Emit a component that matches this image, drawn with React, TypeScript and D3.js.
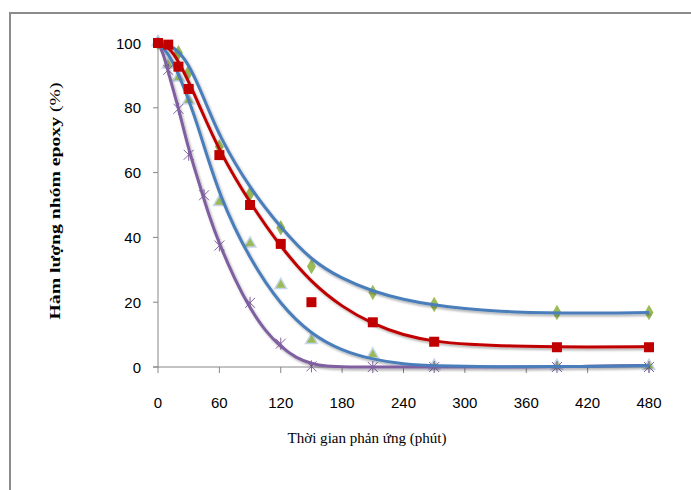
import React from "react";
import * as d3 from "d3";

// measured points (time in minutes, epoxy content in %)
const diamondT = [0, 20, 30, 60, 90, 120, 150, 210, 270, 390, 480];
const diamondV = [100, 97, 91, 68, 53.5, 43, 31, 23, 19.3, 16.8, 16.8];

const squareT = [0, 10, 20, 30, 60, 90, 120, 150, 210, 270, 390, 480];
const squareV = [100, 99.5, 92.7, 85.8, 65.4, 50, 38, 20, 13.8, 7.8, 6.1, 6.1];

const triangleT = [0, 10, 20, 30, 60, 90, 120, 150, 210, 270, 390, 480];
const triangleV = [100, 93, 89, 82, 50.6, 37.8, 25, 8, 3.5, 0, 0, 0];

const starT = [0, 10, 20, 30, 45, 60, 90, 120, 150, 210, 270, 390, 480];
const starV = [100, 91.7, 79.7, 65.5, 53, 37.5, 19.8, 7.2, 0.2, 0, 0, 0, 0];

// trend lines
const fitOuterT = [0, 10, 20, 30, 45, 60, 90, 120, 150, 180, 210, 240, 270, 300, 330, 390, 480];
const fitOuterV = [100, 99.6, 97.5, 93.5, 83, 71, 55, 43, 32.8, 27.2, 23.3, 20.8, 19.1, 18, 17.2, 16.5, 16.8];

const fitRedT = [0, 10, 20, 30, 40, 60, 90, 120, 150, 180, 210, 240, 270, 300, 360, 420, 480];
const fitRedV = [100, 99, 94.5, 88, 81, 66.5, 50.5, 37, 26, 18.5, 13.2, 9.8, 7.9, 7, 6.3, 6.1, 6.3];

const fitInnerT = [0, 10, 20, 30, 40, 60, 90, 120, 150, 180, 210, 240, 270, 330, 390, 480];
const fitInnerV = [100, 97, 90.5, 82.5, 73.5, 52.5, 33, 19, 10, 5, 2.3, 0.9, 0.3, 0, 0.1, 0.4];

const fitPurpleT = [0, 5, 10, 20, 30, 40, 50, 60, 75, 90, 105, 120, 135, 150, 165, 180, 240, 300, 360, 420, 480];
const fitPurpleV = [100, 97, 91, 80, 67, 57, 46.5, 38, 27, 18, 11, 6.2, 2.8, 1, 0.2, 0, 0, 0, 0, 0.2, 0.5];

const xTicks = [0, 60, 120, 180, 240, 300, 360, 420, 480];
const yTicks = [0, 20, 40, 60, 80, 100];

const W = 691;
const H = 490;

const zip = (t: number[], v: number[]) => t.map((d, i) => [d, v[i]] as [number, number]);

export default function App() {
  const x = d3.scaleLinear().domain([0, 480]).range([158, 649]);
  const y = d3.scaleLinear().domain([0, 100]).range([367, 43]);

  const line = d3
    .line<[number, number]>()
    .x((d) => x(d[0]))
    .y((d) => y(d[1]))
    .curve(d3.curveBasis);

  const axisColor = "#868686";
  const blue = "#4A7EBB";
  const red = "#C00000";
  const purple = "#7F5FA0";
  const green = "#9BBB59";
  const tickFont = "'Liberation Sans', Arial, sans-serif";
  const serif = "'Liberation Serif', 'Times New Roman', serif";

  const fits = [
    { data: zip(fitPurpleT, fitPurpleV), color: purple },
    { data: zip(fitInnerT, fitInnerV), color: blue },
    { data: zip(fitRedT, fitRedV), color: red },
    { data: zip(fitOuterT, fitOuterV), color: blue },
  ];

  const diamond = d3.symbol(d3.symbolDiamond, 70)()!;
  const tri = d3.symbol(d3.symbolTriangle, 60)()!;

  return (
    <svg
      width={W}
      height={H}
      style={{ position: "absolute", left: 0, top: 0, background: "#fff" }}
    >
      <defs>
        <filter id="shadow" x="-10%" y="-10%" width="130%" height="130%">
          <feDropShadow dx="1.5" dy="2" stdDeviation="1.2" floodColor="#000" floodOpacity="0.3" />
        </filter>
      </defs>
      <rect x={0} y={0} width={W} height={H} fill="#fff" />
      {/* outer frame */}
      <path d={`M10,${H} L10,13 L${W},13`} fill="none" stroke="#8c8c8c" strokeWidth={2} />

      {/* axes */}
      <line x1={153} x2={x(480)} y1={y(0)} y2={y(0)} stroke={axisColor} strokeWidth={1} />
      <line x1={x(0)} x2={x(0)} y1={y(100)} y2={y(0)} stroke={axisColor} strokeWidth={1} />
      {xTicks.map((t) => (
        <g key={"xt" + t}>
          <line x1={x(t)} x2={x(t)} y1={y(0)} y2={y(0) + 6} stroke={axisColor} />
          <text x={x(t)} y={408} textAnchor="middle" fontFamily={tickFont} fontSize={15} fill="#000">
            {t}
          </text>
        </g>
      ))}
      {yTicks.map((v) => (
        <g key={"yt" + v}>
          <line x1={153} x2={x(0)} y1={y(v)} y2={y(v)} stroke={axisColor} />
          <text x={141} y={y(v) + 5.5} textAnchor="end" fontFamily={tickFont} fontSize={15} fill="#000">
            {v}
          </text>
        </g>
      ))}

      {/* axis titles */}
      <text
        x={367}
        y={443}
        textAnchor="middle"
        fontFamily={serif}
        fontSize={14}
        textLength={159}
        lengthAdjust="spacingAndGlyphs"
        fill="#000"
      >
        Thời gian phản ứng (phút)
      </text>
      <text
        transform="translate(60,201) rotate(-90)"
        textAnchor="middle"
        fontFamily={serif}
        fontSize={15}
        textLength={237}
        lengthAdjust="spacingAndGlyphs"
        fill="#000"
      >
        <tspan fontWeight="bold">Hàm lượng nhóm epoxy </tspan>
        <tspan>(%)</tspan>
      </text>

      {/* markers */}
      {zip(diamondT, diamondV).map((d, i) => (
        <path key={"d" + i} d={diamond} transform={`translate(${x(d[0])},${y(d[1])})`} fill={green} />
      ))}
      {zip(triangleT, triangleV).map((d, i) => (
        <path
          key={"t" + i}
          d={tri}
          transform={`translate(${x(d[0])},${y(d[1]) - 1})`}
          fill={green}
          stroke="#c6d6ec"
          strokeWidth={1.5}
        />
      ))}
      {zip(starT, starV).map((d, i) => {
        const cx = x(d[0]);
        const cy = y(d[1]);
        const r = 5;
        return (
          <g key={"s" + i} stroke="#8064A2" strokeWidth={1}>
            <line x1={cx - r} y1={cy - r} x2={cx + r} y2={cy + r} />
            <line x1={cx - r} y1={cy + r} x2={cx + r} y2={cy - r} />
            <line x1={cx} y1={cy - r - 1} x2={cx} y2={cy + r + 1} />
          </g>
        );
      })}

      {/* trend lines */}
      <g filter="url(#shadow)">
        {fits.map((f, i) => (
          <path key={"f" + i} d={line(f.data)!} fill="none" stroke={f.color} strokeWidth={3} />
        ))}
      </g>

      {zip(squareT, squareV).map((d, i) => (
        <rect key={"q" + i} x={x(d[0]) - 5} y={y(d[1]) - 5} width={10} height={10} fill={red} />
      ))}
    </svg>
  );
}
